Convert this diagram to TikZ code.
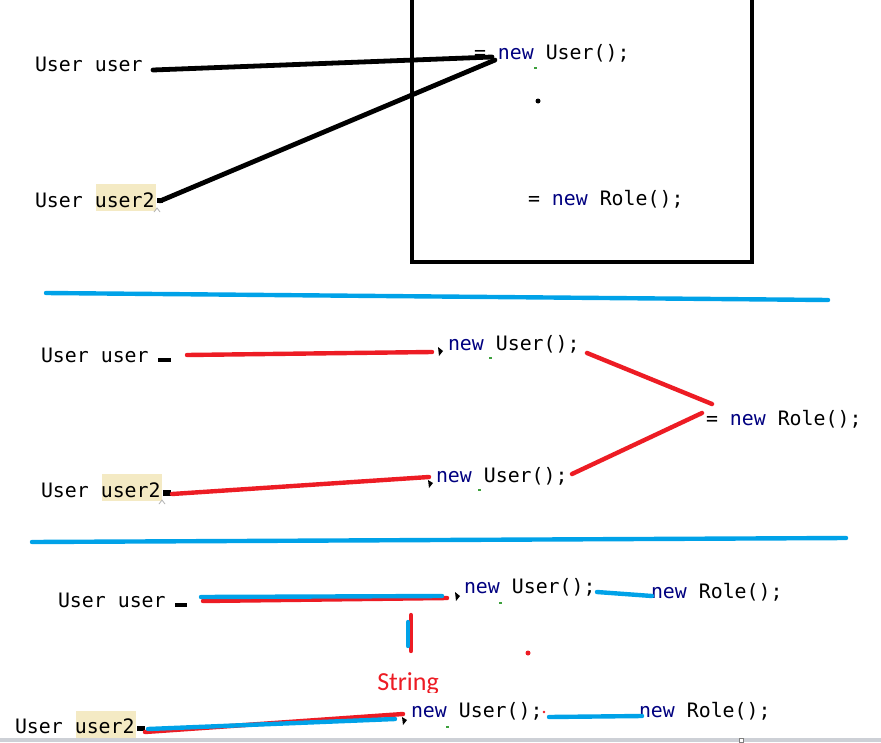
\documentclass[tikz,border=0pt]{standalone}
\usepackage{fontspec}
\setmonofont{DejaVu Sans Mono}
\newfontfamily\calibfont{Carlito}
\definecolor{pblue}{HTML}{00A2E8}
\definecolor{pred}{HTML}{ED1C24}
\definecolor{kwcol}{HTML}{000080}
\definecolor{hlcol}{HTML}{F4EAC4}
\definecolor{barcol}{HTML}{CDD0D6}
\definecolor{grncol}{HTML}{3CA03C}
\newcommand{\kwd}[1]{{\color{kwcol}#1}}
\begin{document}
\begin{tikzpicture}[x=0.75pt,y=-0.75pt,
  code/.style={anchor=base west,inner sep=0pt,outer sep=0pt,font=\ttfamily\fontsize{14.9}{18}\selectfont},
  blk/.style={line width=3.6pt,line cap=round,black},
  redline/.style={line width=3.3pt,line cap=round,pred},
  blueline/.style={line width=3.3pt,line cap=round,pblue},
  caret/.style={draw=gray!60,line width=0.6pt}]
\useasboundingbox (0,0) rectangle (881,742);
\fill[white] (0,0) rectangle (881,742);

% highlights
\fill[hlcol] (96,184) rectangle (156,211);
\fill[hlcol] (102,474) rectangle (162,501);
\fill[hlcol] (76,711) rectangle (136,738);

% ---------- top section ----------
\node[code] (tuser)  at (35,72)  {User user};
\node[code] (tuser2) at (35,207) {User user2};
\node[code] (tnewu)  at (474,60) {= \kwd{new} User();};
\node[code] (tnewr)  at (528,205) {= \kwd{new} Role();};
\draw[line width=3pt] (412,-10) -- (412,262) -- (752,262) -- (752,-10);
\fill (538,101) circle (2.5);
\fill[grncol] (534,67) rectangle (537,69);
\fill[black] (157,198) rectangle (163,203);
\draw[caret] (154,212) -- (157,208) -- (160,212);
\coordinate (ta1) at (153,70);
\coordinate (ta2) at (492,57);
\coordinate (tb1) at (160,201);
\coordinate (tb2) at (495,60);
\draw[blk] (ta1) -- (ta2);
\draw[blk] (tb1) -- (tb2);

% separators
\coordinate (s1a) at (46,293);
\coordinate (s1b) at (828,300);
\coordinate (s2a) at (32,542);
\coordinate (s2b) at (846,538);
\draw[blueline] (s1a) -- (s1b);
\draw[blueline] (s2a) -- (s2b);

% ---------- middle section ----------
\node[code] (muser)  at (41,362)  {User user};
\node[code] (muser2) at (41,497)  {User user2};
\node[code] (mnewu1) at (448,350) {\kwd{new} User();};
\node[code] (mnewu2) at (436,482) {\kwd{new} User();};
\node[code] (mnewr)  at (706,425) {= \kwd{new} Role();};
\fill[black] (158,358) rectangle (171,362);
\fill[black] (163,490) rectangle (171,496);
\draw[caret] (159,504) -- (162,500) -- (165,504);
\fill[black] (438,347) -- (443,351) -- (439,356) -- cycle;
\fill[black] (428,480) -- (433,483) -- (429,488) -- cycle;
\fill[grncol] (489,357) rectangle (492,359);
\fill[grncol] (478,489) rectangle (481,491);
\coordinate (ma1) at (187,355);
\coordinate (ma2) at (432,352);
\coordinate (mb1) at (172,494);
\coordinate (mb2) at (429,477);
\coordinate (mc1) at (587,353);
\coordinate (mc2) at (712,404);
\coordinate (md1) at (702,413);
\coordinate (md2) at (572,474);
\draw[redline] (ma1) -- (ma2);
\draw[redline] (mb1) -- (mb2);
\draw[redline] (mc1) -- (mc2);
\draw[redline] (md1) -- (md2);

% ---------- bottom section ----------
\node[code] (buser)  at (58,607)  {User user};
\node[code] (buser2) at (15,733)  {User user2};
\node[code] (bnewu1) at (464,593) {\kwd{new} User();};
\node[code] (bnewr1) at (651,598) {\kwd{new} Role();};
\node[code] (bnewu2) at (411,717) {\kwd{new} User();};
\node[code] (bnewr2) at (639,717) {\kwd{new} Role();};
\fill[black] (175,603) rectangle (187,607);
\fill[black] (137,726) rectangle (145,731);
\fill[black] (455,592) -- (460,596) -- (456,601) -- cycle;
\fill[black] (402,717) -- (407,720) -- (403,725) -- cycle;
\fill[grncol] (499,602) rectangle (502,604);
\fill[grncol] (446,726) rectangle (449,728);
\fill[pred] (544,712) circle (1.3);

\coordinate (ba1) at (203,601);
\coordinate (ba2) at (447,598);
\coordinate (bb1) at (201,597);
\coordinate (bb2) at (442,596);
\draw[redline] (ba1) -- (ba2);
\draw[blueline] (bb1) -- (bb2);
\coordinate (bc1) at (597,592);
\coordinate (bc2) at (652,596);
\draw[blueline] (bc1) -- (bc2);
\coordinate (bv1) at (411,615);
\coordinate (bv2) at (411,651);
\coordinate (bw1) at (408,622);
\coordinate (bw2) at (408,646);
\draw[redline] (bv1) -- (bv2);
\draw[blueline] (bw1) -- (bw2);
\fill[pred] (528,653) circle (2.5);
\begin{scope}
  \clip (360,660) rectangle (470,692);
  \node[anchor=base west,inner sep=0pt,text=pred,font=\calibfont\fontsize{19.5}{22}\selectfont] (str) at (377,690) {String};
\end{scope}
\coordinate (bd1) at (145,732);
\coordinate (bd2) at (403,714);
\coordinate (be1) at (148,729);
\coordinate (be2) at (395,719);
\draw[redline] (bd1) -- (bd2);
\draw[blueline] (be1) -- (be2);
\coordinate (bf1) at (549,717);
\coordinate (bf2) at (642,716);
\draw[blueline] (bf1) -- (bf2);

% bottom bar
\fill[barcol] (0,738) rectangle (881,742);
\draw[gray,fill=white,line width=0.5pt] (739,738) rectangle (743,742);
\end{tikzpicture}
\end{document}
